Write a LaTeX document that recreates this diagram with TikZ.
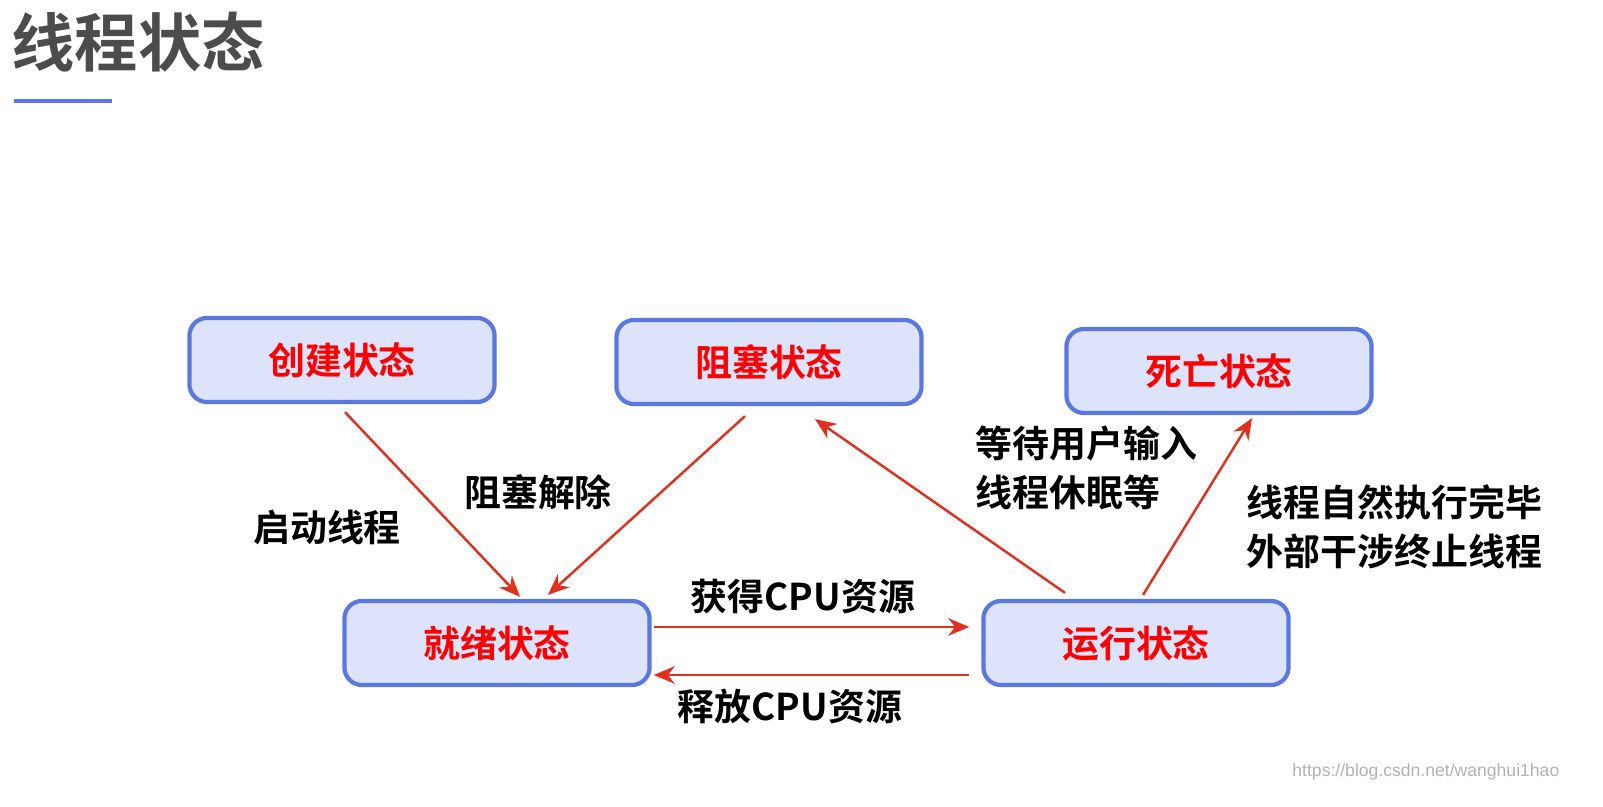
\documentclass[tikz,border=0pt]{standalone}
\usepackage{fontspec}
\setmainfont{Noto Sans CJK SC Bold}
\setsansfont{Liberation Sans}
\usetikzlibrary{arrows.meta,calc}
\definecolor{boxfill}{HTML}{DDE3FB}
\definecolor{boxline}{HTML}{5A78E0}
\definecolor{arr}{HTML}{E03020}
\begin{document}
\begin{tikzpicture}[x=0.01cm,y=-0.01cm,
  state/.style={draw=boxline,line width=1.2pt,fill=boxfill,rounded corners=5pt,
    minimum width=3.05cm,minimum height=0.84cm,
    text=red,font=\fontsize{10.5}{12}\selectfont},
  lbl/.style={font=\fontsize{10.5}{14}\selectfont,text=black,inner sep=0pt},
  conn/.style={draw=arr,line width=0.7pt,-{Stealth[length=6pt,width=5pt]}}]
\useasboundingbox (0,0) rectangle (1603,807);
\node[font=\fontsize{18}{20}\selectfont,text=black!70,inner sep=0pt] (title) at (138,42) {线程状态};
\coordinate (u1) at (14,101); \coordinate (u2) at (112,101);
\draw[boxline,line width=1.2pt] (u1) -- (u2);
\node[state] (create) at (342,360) {创建状态};
\node[state] (block) at (769,362) {阻塞状态};
\node[state] (dead) at (1219,371) {死亡状态};
\node[state] (ready) at (497,643) {就绪状态};
\node[state] (run) at (1136,643) {运行状态};
\draw[conn] ($(create.south)+(3,8)$) -- ($(ready.north)+(23,-2)$);
\draw[conn] ($(block.south)+(-24,10)$) -- ($(ready.north)+(51,-4)$);
\draw[conn] ($(run.north)+(-71,-6)$) -- ($(block.south)+(46,13)$);
\draw[conn] ($(run.north)+(7,-4)$) -- ($(dead.south)+(33,3)$);
\draw[conn] ($(ready.east)+(2,-16)$) -- ($(run.west)+(-12,-16)$);
\draw[conn] ($(run.west)+(-12,32)$) -- ($(ready.east)+(2,32)$);
\node[lbl] (l1) at (327,527) {启动线程};
\node[lbl] (l2) at (538,492) {阻塞解除};
\node[lbl,anchor=west,align=left] (l3) at (975,468) {等待用户输入\\线程休眠等};
\node[lbl,anchor=west,align=left] (l4) at (1246,527) {线程自然执行完毕\\外部干涉终止线程};
\node[lbl] (l5) at (803,597) {获得CPU资源};
\node[lbl] (l6) at (790,706) {释放CPU资源};
\node[font=\sffamily\fontsize{5}{6}\selectfont,text=black!30,anchor=east,inner sep=0pt] (wm) at (1560,772) {https://blog.csdn.net/wanghui1hao};
\end{tikzpicture}
\end{document}
